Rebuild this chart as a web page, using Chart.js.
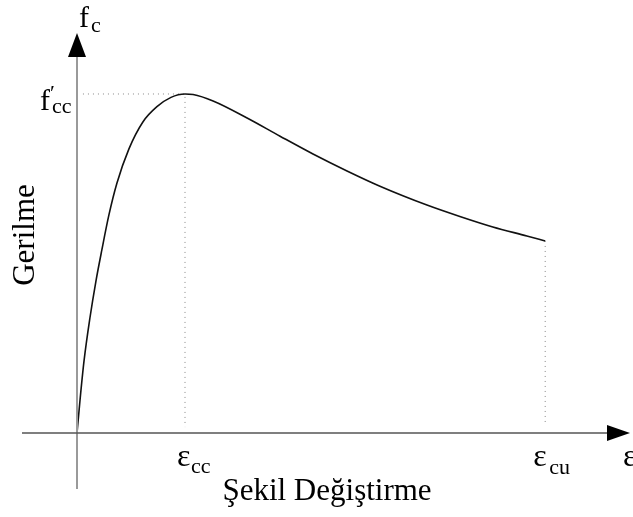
<!DOCTYPE html>
<html>
<head>
<meta charset="utf-8">
<script src="https://cdn.jsdelivr.net/npm/chart.js@4"></script>
<style>
  body { margin: 0; background: #fff; }
  canvas { display: block; }
</style>
</head>
<body>
<canvas id="stress-strain" width="633" height="517"></canvas>
<script>
// strain (per mille) and stress (MPa)
const strain = [0, 0.056, 0.13, 0.24, 0.35, 0.46, 0.59, 0.74, 0.96, 1.22, 1.48, 1.74, 2.0, 2.15, 2.52, 3.15, 3.76, 4.37, 5.0, 5.61, 6.48, 7.09, 7.7, 8.33, 8.67];
const stress = [0, 3.9, 8.5, 13.6, 17.9, 21.6, 25.7, 29.5, 33.5, 36.7, 38.5, 39.6, 40.0, 39.94, 39.18, 37.17, 35.02, 32.92, 30.92, 29.12, 26.9, 25.55, 24.31, 23.25, 22.66];

const epsCC = 2.0;
const epsCU = 8.67;
const fcc = 40.0;
const fcu = 22.66;

const labelFont = '"Liberation Serif", "DejaVu Serif", serif';

const canvas = document.getElementById('stress-strain');

const curve = strain.map((e, i) => ({x: e, y: stress[i]}));

const axesPlugin = {
    id: 'sketchAxes',
    afterDatasetsDraw(chart) {
        const ctx = chart.ctx;
        const xs = chart.scales.x;
        const ys = chart.scales.y;
        const x0 = xs.getPixelForValue(0);
        const y0 = ys.getPixelForValue(0);
        ctx.save();

        // y axis
        ctx.strokeStyle = '#9a9a9a';
        ctx.lineWidth = 2;
        ctx.beginPath();
        ctx.moveTo(x0, 489);
        ctx.lineTo(x0, 57);
        ctx.stroke();
        ctx.fillStyle = '#000';
        ctx.beginPath();
        ctx.moveTo(x0, 33);
        ctx.lineTo(x0 - 9, 57);
        ctx.lineTo(x0 + 9, 57);
        ctx.closePath();
        ctx.fill();

        // x axis
        ctx.strokeStyle = '#555';
        ctx.lineWidth = 1.3;
        ctx.beginPath();
        ctx.moveTo(22, y0);
        ctx.lineTo(608, y0);
        ctx.stroke();
        ctx.beginPath();
        ctx.moveTo(630, y0);
        ctx.lineTo(607, y0 - 8);
        ctx.lineTo(607, y0 + 8);
        ctx.closePath();
        ctx.fill();

        // texts
        ctx.fillStyle = '#000';
        ctx.textBaseline = 'alphabetic';
        ctx.textAlign = 'left';

        ctx.font = '30px ' + labelFont;
        ctx.fillText('f', 79, 27);
        ctx.font = '22px ' + labelFont;
        ctx.fillText('c', 91, 32);

        const pcc = ys.getPixelForValue(fcc);
        ctx.font = '30px ' + labelFont;
        ctx.fillText('f', 40, pcc + 16);
        ctx.font = '22px ' + labelFont;
        ctx.fillText('\u2032', 50, pcc + 6);
        ctx.fillText('cc', 52, pcc + 19);

        const xcc = xs.getPixelForValue(epsCC);
        const xcu = xs.getPixelForValue(epsCU);
        ctx.font = '32px ' + labelFont;
        ctx.fillText('\u03b5', xcc - 8, 466);
        ctx.fillText('\u03b5', xcu - 12, 466);
        ctx.fillText('\u03b5', 623, 466);
        ctx.font = '22px ' + labelFont;
        ctx.fillText('cc', xcc + 6, 473);
        ctx.fillText('cu', xcu + 4, 474);

        ctx.font = '31px ' + labelFont;
        ctx.textAlign = 'center';
        ctx.fillText('\u015eekil De\u011fi\u015ftirme', 327, 500);

        ctx.translate(34, 235);
        ctx.rotate(-Math.PI / 2);
        ctx.fillText('Gerilme', 0, 0);
        ctx.restore();
    }
};

new Chart(canvas, {
    type: 'scatter',
    data: {
        datasets: [
            {
                data: curve,
                showLine: true,
                borderColor: '#111',
                borderWidth: 1.6,
                pointRadius: 0,
                cubicInterpolationMode: 'monotone'
            },
            {
                data: [{x: 0.11, y: fcc}, {x: epsCC, y: fcc}, {x: epsCC, y: 0.7}],
                showLine: true,
                borderColor: '#888',
                borderWidth: 1,
                borderDash: [1, 4],
                pointRadius: 0
            },
            {
                data: [{x: epsCU, y: fcu}, {x: epsCU, y: 1.0}],
                showLine: true,
                borderColor: '#888',
                borderWidth: 1,
                borderDash: [1, 4],
                pointRadius: 0
            }
        ]
    },
    options: {
        responsive: false,
        animation: false,
        layout: {padding: 0},
        plugins: {legend: {display: false}, tooltip: {enabled: false}},
        scales: {
            x: {type: 'linear', display: false, min: -1.426, max: 10.296},
            y: {type: 'linear', display: false, min: -9.91, max: 51.09}
        }
    },
    plugins: [axesPlugin]
});
</script>
</body>
</html>
